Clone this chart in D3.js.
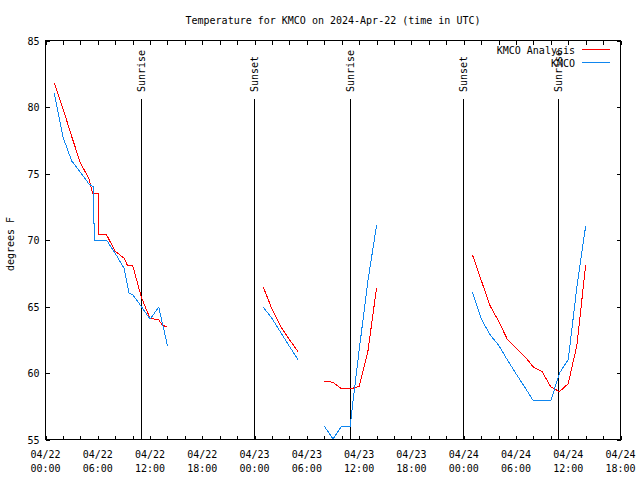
<!DOCTYPE html>
<html><head><meta charset="utf-8">
<script src="https://cdn.jsdelivr.net/npm/d3@7"></script>
<style>
body{margin:0;background:#fff;}
svg{display:block;}
text{font-family:"DejaVu Sans Mono",monospace;font-size:10px;fill:#000;}
</style></head><body>
<svg id="c" width="640" height="480"></svg>
<script>
const title = "Temperature for KMCO on 2024-Apr-22 (time in UTC)";
const yLabel = "degrees F";
const xTickHours = [0,6,12,18,24,30,36,42,48,54,60,66];
const xTickDates = ["04/22","04/22","04/22","04/22","04/23","04/23","04/23","04/23","04/24","04/24","04/24","04/24"];
const xTickTimes = ["00:00","06:00","12:00","18:00","00:00","06:00","12:00","18:00","00:00","06:00","12:00","18:00"];
const yTicks = [55,60,65,70,75,80,85];
const eventHours = [10.98, 23.98, 34.96, 47.96, 58.9];
const eventLabels = ["Sunrise","Sunset","Sunrise","Sunset","Sunrise"];
const seriesNames = ["KMCO Analysis","KMCO"];
const seriesColors = ["#ff0000","#0f86ef"];

// hours since 2024-04-22 00:00 UTC; null marks a gap
const analysisHours = [1,2,3,4,5,5.4,6.05,6.1,7,8,9,9.4,10,11,12,13,13.4,14, null,
  25,26,27,28,29, null,
  32,33,34,35,36,37,38, null,
  49,50,51,52,53,54,55,56,57,58,59,60,61,62];
const analysisTemps = [81.8,79.9,77.8,75.8,74.6,73.5,73.5,70.4,70.4,69.15,68.65,68.1,68.1,65.7,64.1,64.0,63.6,63.45, null,
  66.45,64.8,63.5,62.5,61.6, null,
  59.4,59.3,58.8,58.8,59.0,61.6,66.4, null,
  68.9,67.0,65.1,63.9,62.55,61.9,61.25,60.45,60.1,58.95,58.6,59.2,62.1,68.1];
const obsHours = [1,2,3,4,5,5.5,5.6,7,8,9,9.6,10,11,12,13,14, null,
  25,26,27,28,29, null,
  32,33,34,35,35.1,36,37,38, null,
  49,50,51,52,53,54,55,56,57,58,59,60,61,62];
const obsTemps = [81.05,77.75,75.95,75.1,74.2,74.0,70.0,70.0,69.0,67.9,66.0,65.9,65.0,64.05,64.95,62.05, null,
  64.95,64.1,63.05,62.0,61.0, null,
  56.0,55.05,56.0,56.0,56.8,61.7,66.9,71.1, null,
  66.05,64.1,62.9,62.1,61.0,59.95,58.95,57.9,57.9,57.9,60.0,61.0,66.5,71.05];

const L = 45.5, R = 620.5, T = 40.5, B = 439.5;
const svg = d3.select("#c");
const x = d3.scaleLinear().domain([0,66]).range([L,R]);
const y = d3.scaleLinear().domain([55,85]).range([B,T]);

svg.append("rect").attr("width",640).attr("height",480).attr("fill","#fff");

// title
svg.append("text").attr("x",333).attr("y",24).attr("text-anchor","middle").text(title);
// y label
svg.append("text").attr("transform","translate(14,244) rotate(-90)").attr("text-anchor","middle").text(yLabel);

// ticks
const minor = d3.range(0,67,2);
const gB = svg.append("g").attr("transform",`translate(0,${B})`)
  .call(d3.axisBottom(x).tickValues(minor).tickSizeInner(-4).tickSizeOuter(0).tickFormat(""));
const gT = svg.append("g").attr("transform",`translate(0,${T})`)
  .call(d3.axisTop(x).tickValues(minor).tickSizeInner(-4).tickSizeOuter(0).tickFormat(""));
const gL = svg.append("g").attr("transform",`translate(${L},0)`)
  .call(d3.axisLeft(y).tickValues(yTicks).tickSizeInner(-4).tickSizeOuter(0).tickPadding(6).tickFormat(d3.format("d")));
const gR = svg.append("g").attr("transform",`translate(${R},0)`)
  .call(d3.axisRight(y).tickValues(yTicks).tickSizeInner(-4).tickSizeOuter(0).tickFormat(""));
[gB,gT,gL,gR].forEach(g=>{
  g.select(".domain").remove();
  g.selectAll("line").attr("stroke","#000").attr("shape-rendering","crispEdges");
  g.attr("font-family",null).attr("font-size",null);
});
gL.selectAll("text").attr("dy","0.35em");

// x labels (two lines)
const xl = svg.append("g");
xTickHours.forEach((h,i)=>{
  const t = xl.append("text").attr("text-anchor","middle");
  t.append("tspan").attr("x",x(h)).attr("y",458).text(xTickDates[i]);
  t.append("tspan").attr("x",x(h)).attr("y",472).text(xTickTimes[i]);
});

// frame
svg.append("rect").attr("x",L).attr("y",T).attr("width",R-L).attr("height",B-T)
  .attr("fill","none").attr("stroke","#000").attr("shape-rendering","crispEdges");

// sunrise / sunset
eventHours.forEach((h,i)=>{
  svg.append("line").attr("x1",x(h)).attr("x2",x(h)).attr("y1",99).attr("y2",B)
    .attr("stroke","#000").attr("shape-rendering","crispEdges");
  svg.append("text").attr("transform",`translate(${x(h)},92) rotate(-90)`)
    .attr("dy","0.35em").attr("text-anchor","start").text(eventLabels[i]);
});

// series
function draw(hours, temps, color){
  const pts = hours.map((h,i)=>[h,temps[i]]);
  const line = d3.line().defined(d=>d[0]!==null && d[1]!==null)
    .x(d=>x(d[0])).y(d=>y(d[1]));
  svg.append("path").attr("d",line(pts)).attr("fill","none")
    .attr("stroke",color).attr("stroke-width",1).attr("shape-rendering","crispEdges");
}
draw(analysisHours, analysisTemps, seriesColors[0]);
draw(obsHours, obsTemps, seriesColors[1]);

// legend
const legY = [49.5, 62.5];
seriesNames.forEach((n,i)=>{
  svg.append("text").attr("x",575).attr("y",legY[i]+4).attr("text-anchor","end").text(n);
  svg.append("line").attr("x1",582).attr("x2",610).attr("y1",legY[i]).attr("y2",legY[i])
    .attr("stroke",seriesColors[i]).attr("shape-rendering","crispEdges");
});
</script>
</body></html>
